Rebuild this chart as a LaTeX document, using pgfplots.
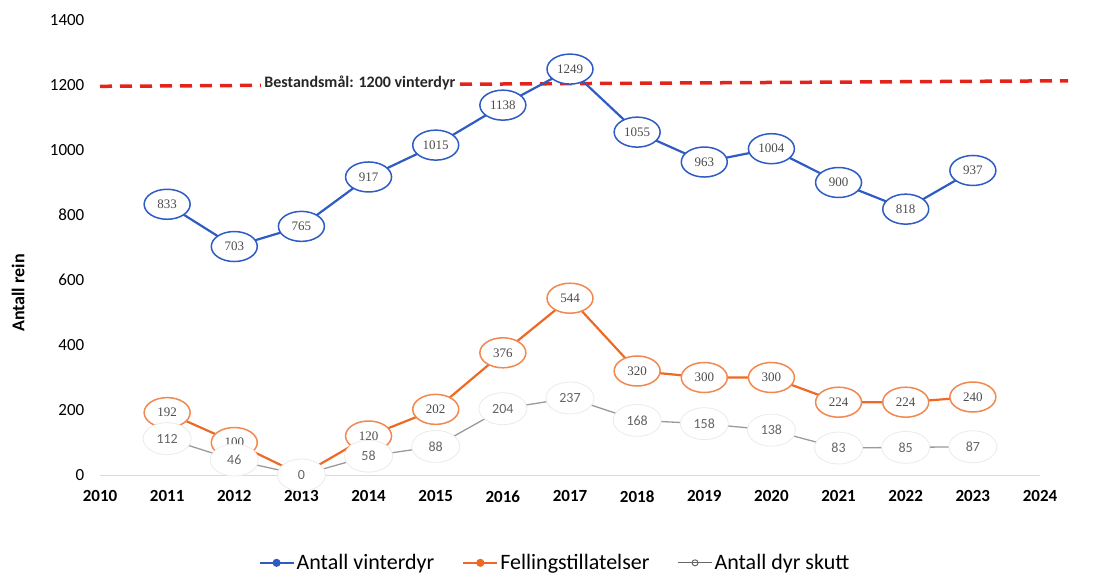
\documentclass[border=0pt]{standalone}
\usepackage{fontspec}
\setmainfont{Carlito}
\newfontfamily\serifv{Liberation Serif}
\usepackage{pgfplots}
\pgfplotsset{compat=1.18}
\usetikzlibrary{shapes.geometric,calc}
\definecolor{cblue}{HTML}{2F5CC4}
\definecolor{corange}{HTML}{EE6A24}
\definecolor{cgray}{HTML}{9A9A9A}
\definecolor{cred}{HTML}{E3241B}
\begin{document}
\begin{tikzpicture}
\begin{axis}[
  scale only axis, width=940pt, height=455pt,
  xmin=2010, xmax=2024, ymin=0, ymax=1400,
  xtick={2010,2011,...,2024}, ytick={0,200,...,1400},
  /pgf/number format/assume math mode=true,
  /pgf/number format/1000 sep={},
  axis lines=left, axis line style={draw=none}, tick style={draw=none},
  xticklabel style={font=\fontsize{17}{20}\selectfont\bfseries, yshift=-10pt},
  yticklabel style={font=\fontsize{17}{20}\selectfont, xshift=-10pt},
  ylabel={Antall rein},
  ylabel style={font=\fontsize{18}{20}\selectfont\bfseries, at={(axis description cs:-0.087,0.40)}, anchor=center},
  clip=false,
  legend style={at={(0.484,-0.193)}, anchor=center, draw=none, font=\fontsize{22}{25}\selectfont,
    /tikz/every even column/.append style={column sep=26pt}},
  legend columns=3, legend cell align=left,
  legend image code/.code={\draw[mark repeat=2,mark phase=2,#1] plot coordinates {(0pt,0pt) (17pt,0pt) (34pt,0pt)};},
  nodes near coords align=center,
]
\addlegendimage{cblue, line width=2pt, mark=*, mark size=3pt}
\addlegendentry{Antall vinterdyr}
\addlegendimage{corange, line width=2pt, mark=*, mark size=3pt}
\addlegendentry{Fellingstillatelser}
\addlegendimage{black!60, line width=1pt, mark=o, mark size=3pt, mark options={fill=white}}
\addlegendentry{Antall dyr skutt}

% target line
\addplot[cred, line width=3.5pt, dash pattern=on 12pt off 8pt, forget plot] coordinates {(2010,1196) (2024.42,1213)};

% Antall vinterdyr
\addplot[cblue, line width=2.2pt, mark=none, forget plot,
  nodes near coords,
  every node near coord/.append style={anchor=center, ellipse, draw=cblue, line width=1.5pt, fill=white,
    minimum width=46pt, minimum height=30pt, inner sep=0pt, text=black!70, font=\serifv\fontsize{13}{14}\selectfont}]
coordinates {(2011,833) (2012,703) (2013,765) (2014,917) (2015,1015) (2016,1138) (2017,1249) (2018,1055) (2019,963) (2020,1004) (2021,900) (2022,818) (2023,937)};

% Fellingstillatelser
\addplot[corange, line width=2.2pt, mark=none, forget plot,
  nodes near coords,
  every node near coord/.append style={anchor=center, ellipse, draw=corange!80, line width=1.5pt, fill=white,
    minimum width=46pt, minimum height=30pt, inner sep=0pt, text=black!70, font=\serifv\fontsize{13}{14}\selectfont}]
coordinates {(2011,192) (2012,100) (2013,0) (2014,120) (2015,202) (2016,376) (2017,544) (2018,320) (2019,300) (2020,300) (2021,224) (2022,224) (2023,240)};

% Antall dyr skutt
\addplot[cgray, line width=1.3pt, mark=none, forget plot,
  nodes near coords,
  every node near coord/.append style={anchor=center, ellipse, draw=black!8, line width=0.8pt, fill=white,
    minimum width=48pt, minimum height=32pt, inner sep=0pt, text=black!60, font=\fontsize{14}{15}\selectfont}]
coordinates {(2011,112) (2012,46) (2013,0) (2014,58) (2015,88) (2016,204) (2017,237) (2018,168) (2019,158) (2020,138) (2021,83) (2022,85) (2023,87)};

\draw[black!15, line width=0.8pt] (axis cs:2010,0) -- (axis cs:2024,0);
\node[fill=white, inner sep=3pt, font=\fontsize{16}{18}\selectfont\bfseries, text=black!85] at (axis cs:2013.87,1205) {Bestandsmål: 1200 vinterdyr};
\end{axis}
\pgfresetboundingbox
\path ($(current axis.south west)+(-100pt,-99pt)$) rectangle ($(current axis.north east)+(54pt,20pt)$);
\end{tikzpicture}
\end{document}
